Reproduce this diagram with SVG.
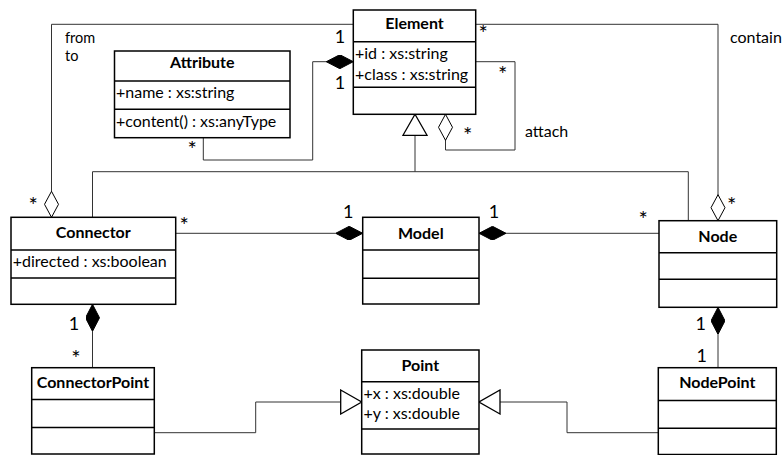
<svg xmlns="http://www.w3.org/2000/svg" width="783" height="455" viewBox="0 0 783 455">
  <style>
    .box { fill: #ffffff; stroke: #000000; stroke-width: 1.5; }
    .sep { stroke: #000000; stroke-width: 1.5; }
    .conn { fill: none; stroke: #333333; stroke-width: 1; }
    text { font-family: Lato, "Open Sans", "Liberation Sans", sans-serif; fill: #000000; }
    .name { font-size: 16px; font-weight: bold; text-anchor: middle; }
    .attr { font-size: 16px; }
    .lbl { font-size: 16px; }
    .role { font-size: 14.5px; }
    .one { font-size: 18px; text-anchor: middle; }
    .star { font-size: 22px; text-anchor: middle; }
  </style>
  <defs>
    <!-- composition: filled diamond -->
    <marker id="comp" viewBox="0 0 27 14" refX="27" refY="7" markerWidth="27" markerHeight="14" markerUnits="userSpaceOnUse" orient="auto">
      <path d="M0,7 L13.5,0 L27,7 L13.5,14 Z" fill="#000000" stroke="#000000" stroke-width="1"/>
    </marker>
    <!-- aggregation: hollow diamond -->
    <marker id="aggr" viewBox="-1 -1 28 16" refX="26" refY="7" markerWidth="28" markerHeight="16" markerUnits="userSpaceOnUse" orient="auto">
      <path d="M0,7 L13,0 L26,7 L13,14 Z" fill="#ffffff" stroke="#000000" stroke-width="1"/>
    </marker>
    <!-- generalization: hollow triangle -->
    <marker id="gen" viewBox="-1 -1 23 26" refX="21" refY="12" markerWidth="23" markerHeight="26" markerUnits="userSpaceOnUse" orient="auto">
      <path d="M0,0 L21,12 L0,24 Z" fill="#ffffff" stroke="#000000" stroke-width="1.3"/>
    </marker>
  </defs>

  <g id="connectors">
    <!-- Connector from/to Element -->
    <path class="conn" d="M353.3,24.3 H51.5 V217.3" marker-end="url(#aggr)"/>
    <!-- Element contains Node -->
    <path class="conn" d="M475.7,24.3 H718 V220.7" marker-end="url(#aggr)"/>
    <!-- Element attach (self) -->
    <path class="conn" d="M475.7,61.7 H515 V150 H445.5 V114.3" marker-end="url(#aggr)"/>
    <!-- Element owns Attribute -->
    <path class="conn" d="M203.3,137.7 V160 H312.7 V61.7 H353.3" marker-end="url(#comp)"/>
    <!-- Connector / Node specialize Element -->
    <path class="conn" d="M92.5,217.3 V171.7 H688.3 V220.7"/>
    <path class="conn" d="M415,171.7 V114.3" marker-end="url(#gen)"/>
    <!-- Model composition -->
    <path class="conn" d="M175.7,233.3 H362.7" marker-end="url(#comp)"/>
    <path class="conn" d="M659,233.3 H479" marker-end="url(#comp)"/>
    <!-- point compositions -->
    <path class="conn" d="M92.5,367.7 V304.3" marker-end="url(#comp)"/>
    <path class="conn" d="M718,367.7 V307.3" marker-end="url(#comp)"/>
    <!-- point specializations -->
    <path class="conn" d="M154.3,432.7 H255.7 V402 H361.7" marker-end="url(#gen)"/>
    <path class="conn" d="M658.3,432.7 H567 V402 H479" marker-end="url(#gen)"/>
  </g>

  <g id="labels">
    <text class="role" x="65" y="43.3">from</text>
    <text class="role" x="65" y="60.8">to</text>
    <text class="one" x="340" y="42.7">1</text>
    <text class="one" x="340" y="89.3">1</text>
    <text class="star" x="192.3" y="157.3">*</text>
    <text class="star" x="483.3" y="40.7">*</text>
    <text class="star" x="502.7" y="82.3">*</text>
    <text class="star" x="467.7" y="143.3">*</text>
    <text class="lbl" x="525" y="136.7">attach</text>
    <text class="lbl" x="730" y="42.7">contain</text>
    <text class="star" x="33.3" y="213.3">*</text>
    <text class="star" x="184.3" y="233.3">*</text>
    <text class="one" x="348.3" y="218.3">1</text>
    <text class="one" x="494" y="218.3">1</text>
    <text class="star" x="643.3" y="227.3">*</text>
    <text class="star" x="731.7" y="213">*</text>
    <text class="one" x="74" y="330">1</text>
    <text class="star" x="76" y="366.3">*</text>
    <text class="one" x="700.7" y="330">1</text>
    <text class="one" x="701.7" y="361.7">1</text>
  </g>

  <g id="Element">
    <rect class="box" x="353.3" y="10" width="122.4" height="104.3"/>
    <line class="sep" x1="353.3" y1="41.7" x2="475.7" y2="41.7"/>
    <line class="sep" x1="353.3" y1="87.3" x2="475.7" y2="87.3"/>
    <text class="name" x="414.5" y="29.3">Element</text>
    <text class="attr" x="355" y="59.3">+id : xs:string</text>
    <text class="attr" x="355" y="80">+class : xs:string</text>
  </g>

  <g id="Attribute">
    <rect class="box" x="114.5" y="51" width="175.5" height="86.7"/>
    <line class="sep" x1="114.5" y1="81" x2="290" y2="81"/>
    <line class="sep" x1="114.5" y1="109.3" x2="290" y2="109.3"/>
    <text class="name" x="202.3" y="68.3">Attribute</text>
    <text class="attr" x="116" y="98.3">+name : xs:string</text>
    <text class="attr" x="116" y="126.7">+content() : xs:anyType</text>
  </g>

  <g id="Connector">
    <rect class="box" x="11" y="217.3" width="164.7" height="87"/>
    <line class="sep" x1="11" y1="250" x2="175.7" y2="250"/>
    <line class="sep" x1="11" y1="278" x2="175.7" y2="278"/>
    <text class="name" x="93.3" y="238.3">Connector</text>
    <text class="attr" x="12.7" y="267.3">+directed : xs:boolean</text>
  </g>

  <g id="Model">
    <rect class="box" x="362.7" y="217.3" width="116.3" height="86.7"/>
    <line class="sep" x1="362.7" y1="250" x2="479" y2="250"/>
    <line class="sep" x1="362.7" y1="278.3" x2="479" y2="278.3"/>
    <text class="name" x="420.8" y="239">Model</text>
  </g>

  <g id="Node">
    <rect class="box" x="659" y="220.7" width="117.7" height="86.6"/>
    <line class="sep" x1="659" y1="252.7" x2="776.7" y2="252.7"/>
    <line class="sep" x1="659" y1="279.3" x2="776.7" y2="279.3"/>
    <text class="name" x="717.8" y="242.3">Node</text>
  </g>

  <g id="ConnectorPoint">
    <rect class="box" x="31.7" y="367.7" width="122.6" height="86.3"/>
    <line class="sep" x1="31.7" y1="399.5" x2="154.3" y2="399.5"/>
    <line class="sep" x1="31.7" y1="427.5" x2="154.3" y2="427.5"/>
    <text class="name" x="93" y="388.3">ConnectorPoint</text>
  </g>

  <g id="Point">
    <rect class="box" x="361.7" y="350" width="117.3" height="104"/>
    <line class="sep" x1="361.7" y1="381.7" x2="479" y2="381.7"/>
    <line class="sep" x1="361.7" y1="429" x2="479" y2="429"/>
    <text class="name" x="420.3" y="370.7">Point</text>
    <text class="attr" x="363.5" y="399">+x : xs:double</text>
    <text class="attr" x="363.5" y="419.3">+y : xs:double</text>
  </g>

  <g id="NodePoint">
    <rect class="box" x="658.3" y="367.7" width="118" height="86.8"/>
    <line class="sep" x1="658.3" y1="400.5" x2="776.3" y2="400.5"/>
    <line class="sep" x1="658.3" y1="428.3" x2="776.3" y2="428.3"/>
    <text class="name" x="717.3" y="388.3">NodePoint</text>
  </g>
</svg>
